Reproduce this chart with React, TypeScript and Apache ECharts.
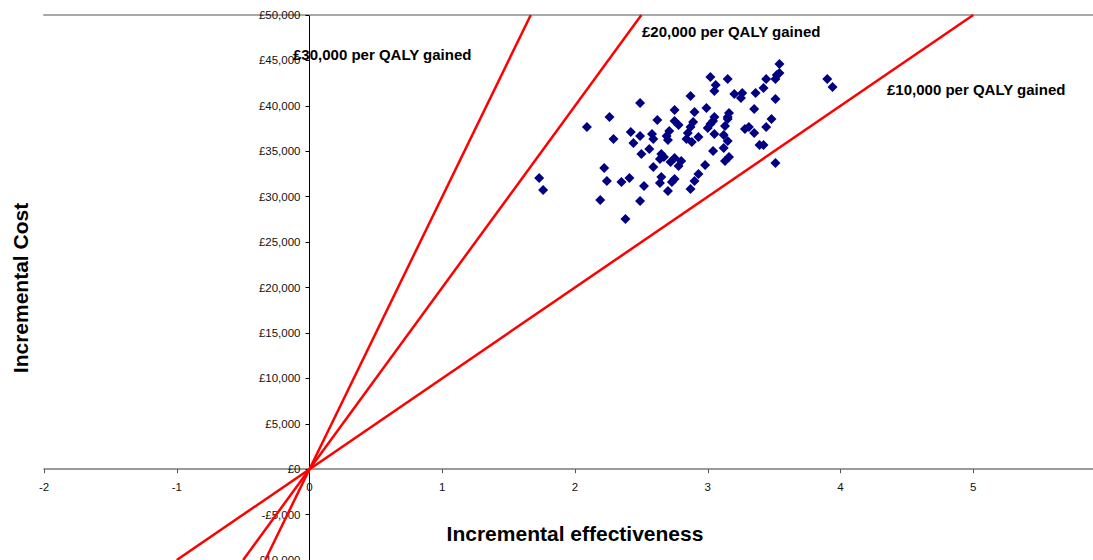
import React, { useEffect, useRef } from "react";
import * as echarts from "echarts";

const xTicks = [-2, -1, 0, 1, 2, 3, 4, 5];
const xRange = [-2, 6];
const yRange = [-10000, 50000];
const thresholds = [10000, 20000, 30000];
const thresholdLabels = ["£10,000 per QALY gained", "£20,000 per QALY gained", "£30,000 per QALY gained"];

const effectiveness = [
  1.73, 1.76, 2.09, 2.19, 2.22, 2.24, 2.26, 2.29, 2.35, 2.38,
  2.41, 2.42, 2.44, 2.49, 2.49, 2.49, 2.50, 2.52, 2.56, 2.58,
  2.59, 2.59, 2.62, 2.64, 2.64, 2.65, 2.65, 2.67, 2.70, 2.69,
  2.70, 2.71, 2.72, 2.73, 2.75, 2.75, 2.75, 2.75, 2.78, 2.78,
  2.80, 2.84, 2.85, 2.87, 2.87, 2.87, 2.88, 2.89, 2.90, 2.90,
  2.93, 2.93, 2.98, 2.99, 3.02, 3.00, 3.02, 3.04, 3.05, 3.04,
  3.05, 3.05, 3.06, 3.12, 3.12, 3.13, 3.13, 3.15, 3.15, 3.15,
  3.15, 3.16, 3.16, 3.20, 3.25, 3.26, 3.28, 3.31, 3.35, 3.35,
  3.36, 3.39, 3.42, 3.42, 3.44, 3.44, 3.48, 3.51, 3.51, 3.51,
  3.52, 3.54, 3.54, 3.90, 3.94,
];
const cost = [
  32050, 30730, 37670, 29630, 33150, 31720, 38770, 36340, 31610, 27530,
  32050, 37120, 35900, 36670, 40310, 29520, 34690, 31170, 35240, 36890,
  36340, 33260, 38440, 34140, 31500, 34690, 32160, 34360, 30620, 36670,
  36230, 37230, 33810, 31610, 31940, 39540, 38330, 34250, 37890, 33370,
  33920, 36340, 37000, 37670, 41080, 30840, 36010, 38220, 39320, 31720,
  36560, 32490, 33480, 39760, 43170, 37560, 38000, 38330, 38770, 35020,
  36890, 41630, 42290, 36780, 35350, 37780, 33920, 38550, 36120, 42950,
  38770, 39210, 34360, 41300, 40860, 41410, 37450, 37670, 37000, 39650,
  41410, 35680, 41960, 35680, 42950, 37670, 38550, 40750, 42950, 33700,
  43390, 43610, 44600, 42950, 42070,
];

const gbp = (v: number) => {
  const s = "£" + Math.abs(v).toLocaleString("en-GB");
  return v < 0 ? "-" + s : s;
};

const W = 1093;
const H = 560;
const GRID = { left: 44, right: -13, top: 15, bottom: 0 };

export default function App() {
  const ref = useRef<HTMLDivElement>(null);
  useEffect(() => {
    if (!ref.current) return;
    const chart = echarts.init(ref.current, null, { renderer: "svg" });
    const font = "'Liberation Sans', Arial, sans-serif";
    const gw = W - GRID.left - GRID.right;
    const gh = H - GRID.top - GRID.bottom;
    // place axes through the origin
    const yAxisOffset = -((0 - xRange[0]) / (xRange[1] - xRange[0])) * gw;
    const xAxisOffset = -((0 - yRange[0]) / (yRange[1] - yRange[0])) * gh;
    const lineSeries = thresholds.map((t) => ({
      type: "line",
      data: [
        [yRange[0] / t, yRange[0]],
        [yRange[1] / t, yRange[1]],
      ],
      symbol: "none",
      lineStyle: { color: "#ff0000", width: 2.5 },
      silent: true,
      z: 2,
    }));
    const textPos = [
      { left: 887, top: 82 },
      { left: 642, top: 24 },
      { left: 293, top: 47 },
    ];
    chart.setOption({
      animation: false,
      grid: { ...GRID, containLabel: false, outerBoundsMode: "none" },
      xAxis: [
        {
          type: "value",
          min: xRange[0],
          max: xRange[1],
          interval: 1,
          offset: xAxisOffset,
          axisLine: { onZero: false, lineStyle: { color: "#7a7a7a", width: 1.5 } },
          axisTick: { show: true, length: 4, inside: false, lineStyle: { color: "#555" } },
          axisLabel: {
            color: "#111",
            fontFamily: font,
            fontSize: 11.5,
            margin: 12,
            formatter: (v: number) => (xTicks.indexOf(Math.round(v * 1000) / 1000) >= 0 ? String(v) : ""),
          },
          splitLine: { show: false },
        },
        {
          type: "value",
          position: "top",
          min: xRange[0],
          max: xRange[1],
          axisLine: { show: true, onZero: false, lineStyle: { color: "#a8a8a8", width: 2 } },
          axisTick: { show: false },
          axisLabel: { show: false },
          splitLine: { show: false },
        },
      ],
      yAxis: {
        type: "value",
        min: yRange[0],
        max: yRange[1],
        interval: 5000,
        offset: yAxisOffset,
        axisLine: { onZero: false, lineStyle: { color: "#000", width: 1 } },
        axisTick: { show: true, length: 4, lineStyle: { color: "#000" } },
        axisLabel: {
          color: "#111",
          fontFamily: font,
          fontSize: 11.5,
          margin: 9,
          formatter: (v: number) => gbp(v),
        },
        splitLine: { show: false },
      },
      series: [
        ...lineSeries,
        {
          type: "scatter",
          data: effectiveness.map((x, i) => [x, cost[i]]),
          symbol: "diamond",
          symbolSize: 10,
          itemStyle: { color: "#000080", opacity: 1 },
          z: 3,
        },
      ],
      graphic: [
        ...thresholdLabels.map((t, i) => ({
          type: "text",
          left: textPos[i].left,
          top: textPos[i].top,
          style: { text: t, font: `bold 15px ${font}`, fill: "#000" },
          z: 10,
        })),
        {
          type: "text",
          x: 575,
          y: 533,
          style: {
            text: "Incremental effectiveness",
            font: `bold 21px ${font}`,
            fill: "#000",
            textAlign: "center",
            textVerticalAlign: "middle",
            align: "center",
            verticalAlign: "middle",
          },
        },
        {
          type: "text",
          x: 20,
          y: 288,
          rotation: Math.PI / 2,
          style: {
            text: "Incremental Cost",
            font: `bold 21px ${font}`,
            fill: "#000",
            textAlign: "center",
            textVerticalAlign: "middle",
            align: "center",
            verticalAlign: "middle",
          },
        },
      ],
    });
    return () => chart.dispose();
  }, []);
  return (
    <div
      ref={ref}
      style={{ position: "fixed", left: 0, top: 0, width: W, height: H, background: "#fff" }}
    />
  );
}
